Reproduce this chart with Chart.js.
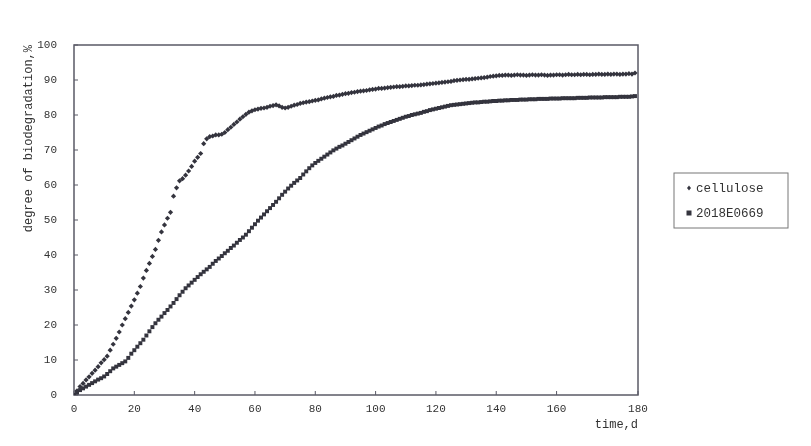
<!DOCTYPE html>
<html>
<head>
<meta charset="utf-8">
<script src="https://cdn.jsdelivr.net/npm/chart.js@4.4.1/dist/chart.umd.min.js"></script>
<style>
  html, body { margin: 0; padding: 0; background: #fff; }
  canvas { display: block; }
</style>
</head>
<body>
<canvas id="bioChart" width="811" height="446"></canvas>
<script>
// Series labels
const seriesNames = ['cellulose', '2018E0669'];

// Test days (x values)
const days = [
  0, 1, 2, 3, 4, 5, 6, 7, 8, 9, 10, 11, 12, 13, 14, 15, 16, 17, 18, 19,
  20, 21, 22, 23, 24, 25, 26, 27, 28, 29, 30, 31, 32, 33, 34, 35, 36, 37, 38, 39,
  40, 41, 42, 43, 44, 45, 46, 47, 48, 49, 50, 51, 52, 53, 54, 55, 56, 57, 58, 59,
  60, 61, 62, 63, 64, 65, 66, 67, 68, 69, 70, 71, 72, 73, 74, 75, 76, 77, 78, 79,
  80, 81, 82, 83, 84, 85, 86, 87, 88, 89, 90, 91, 92, 93, 94, 95, 96, 97, 98, 99,
  100, 101, 102, 103, 104, 105, 106, 107, 108, 109, 110, 111, 112, 113, 114, 115, 116, 117, 118, 119,
  120, 121, 122, 123, 124, 125, 126, 127, 128, 129, 130, 131, 132, 133, 134, 135, 136, 137, 138, 139,
  140, 141, 142, 143, 144, 145, 146, 147, 148, 149, 150, 151, 152, 153, 154, 155, 156, 157, 158, 159,
  160, 161, 162, 163, 164, 165, 166, 167, 168, 169, 170, 171, 172, 173, 174, 175, 176, 177, 178, 179,
  180, 181, 182, 183, 184, 185, 186
];

// Degree of biodegradation, %
const cellulose = [
  0, 1.2, 2.4, 3.3, 4.3, 5.2, 6.2, 7.1, 8.1, 9.2,
  10.1, 11.1, 12.8, 14.5, 16.2, 18.0, 20.0, 21.8, 23.6, 25.4,
  27.2, 29.1, 31.0, 33.4, 35.6, 37.6, 39.6, 41.6, 44.2, 46.6,
  48.6, 50.5, 52.2, 56.8, 59.2, 61.2, 61.8, 62.8, 64.0, 65.3,
  66.8, 67.9, 69.0, 71.8, 73.2, 73.8, 74.0, 74.3, 74.3, 74.5,
  75.0, 75.8, 76.5, 77.3, 78.0, 78.8, 79.5, 80.2, 80.8, 81.2,
  81.5, 81.7, 81.9, 82.0, 82.2, 82.5, 82.7, 82.9, 82.6, 82.2,
  82.0, 82.2, 82.5, 82.8, 83.0, 83.3, 83.5, 83.7, 83.8, 84.0,
  84.2, 84.3, 84.6, 84.8, 85.0, 85.2, 85.3, 85.6, 85.7, 85.9,
  86.1, 86.2, 86.4, 86.5, 86.7, 86.8, 86.9, 87.0, 87.2, 87.3,
  87.4, 87.6, 87.6, 87.7, 87.8, 87.9, 88.0, 88.1, 88.1, 88.2,
  88.3, 88.3, 88.4, 88.5, 88.5, 88.6, 88.7, 88.8, 88.9, 89.0,
  89.1, 89.2, 89.3, 89.4, 89.5, 89.6, 89.8, 89.9, 90.0, 90.1,
  90.2, 90.2, 90.3, 90.4, 90.5, 90.6, 90.7, 90.8, 91.0, 91.1,
  91.2, 91.3, 91.3, 91.4, 91.4, 91.3, 91.4, 91.5, 91.4, 91.4,
  91.3, 91.4, 91.5, 91.4, 91.4, 91.5, 91.4, 91.3, 91.4, 91.4,
  91.5, 91.5, 91.4, 91.5, 91.6, 91.5, 91.5, 91.6, 91.5, 91.6,
  91.6, 91.5, 91.6, 91.6, 91.7, 91.6, 91.6, 91.7, 91.6, 91.7,
  91.7, 91.6, 91.7, 91.7, 91.8, 91.7, 92.0
];

const sample2018E0669 = [
  0, 0.7, 1.4, 1.9, 2.4, 2.9, 3.4, 3.9, 4.4, 4.8,
  5.3, 6.0, 6.8, 7.6, 8.1, 8.6, 9.1, 9.6, 10.6, 11.8,
  12.8, 13.8, 14.8, 15.8, 17.0, 18.2, 19.4, 20.5, 21.5, 22.4,
  23.4, 24.3, 25.3, 26.3, 27.4, 28.5, 29.5, 30.5, 31.3, 32.1,
  32.9, 33.7, 34.5, 35.2, 35.9, 36.6, 37.5, 38.3, 39.0, 39.7,
  40.5, 41.2, 42.0, 42.7, 43.5, 44.3, 45.0, 45.8, 46.8, 47.8,
  48.8, 49.8, 50.7, 51.6, 52.5, 53.4, 54.3, 55.2, 56.2, 57.2,
  58.1, 59.0, 59.8, 60.6, 61.3, 62.0, 63.0, 63.9, 64.8, 65.6,
  66.3, 66.9, 67.5, 68.1, 68.7, 69.3, 69.9, 70.4, 70.9, 71.3,
  71.8, 72.3, 72.8, 73.3, 73.8, 74.3, 74.7, 75.1, 75.5, 75.9,
  76.3, 76.7, 77.0, 77.4, 77.7, 78.0, 78.3, 78.6, 78.9, 79.2,
  79.5, 79.7, 80.0, 80.2, 80.4, 80.6, 80.9, 81.1, 81.4, 81.6,
  81.8, 82.0, 82.2, 82.4, 82.6, 82.8, 82.9, 83.0, 83.1, 83.2,
  83.3, 83.4, 83.5, 83.6, 83.6, 83.7, 83.8, 83.8, 83.9, 84.0,
  84.0, 84.1, 84.1, 84.2, 84.2, 84.3, 84.3, 84.3, 84.4, 84.4,
  84.4, 84.5, 84.5, 84.5, 84.6, 84.6, 84.6, 84.6, 84.7, 84.7,
  84.7, 84.7, 84.8, 84.8, 84.8, 84.8, 84.8, 84.9, 84.9, 84.9,
  84.9, 85.0, 85.0, 85.0, 85.0, 85.0, 85.1, 85.1, 85.1, 85.1,
  85.1, 85.2, 85.2, 85.2, 85.2, 85.3, 85.4
];

// Axis ticks
const xTickValues = [0, 20, 40, 60, 80, 100, 120, 140, 160, 187];
const xTickLabels = ['0', '20', '40', '60', '80', '100', '120', '140', '160', '180'];
const yTickValues = [0, 10, 20, 30, 40, 50, 60, 70, 80, 90, 100];

const INK = '#34343e';
const FONT = "'Liberation Mono', 'DejaVu Sans Mono', monospace";

function toPoints(values) {
    return values.map((v, i) => ({ x: days[i], y: v }));
}

// Box round the plot, plus the small inward tick marks
const framePlugin = {
    id: 'frame',
    beforeDatasetsDraw(chart) {
        const { ctx, chartArea: a, scales } = chart;
        ctx.save();
        ctx.strokeStyle = '#5a5a66';
        ctx.lineWidth = 1.5;
        ctx.strokeRect(a.left, a.top, a.right - a.left, a.bottom - a.top);
        ctx.lineWidth = 1;
        ctx.beginPath();
        yTickValues.forEach(v => {
            const y = scales.y.getPixelForValue(v);
            ctx.moveTo(a.left, y);
            ctx.lineTo(a.left + 4, y);
        });
        xTickValues.forEach(v => {
            const x = scales.x.getPixelForValue(v);
            ctx.moveTo(x, a.bottom);
            ctx.lineTo(x, a.bottom - 4);
        });
        ctx.stroke();
        ctx.restore();
    }
};

// Boxed legend to the right of the plot
const boxLegendPlugin = {
    id: 'boxLegend',
    afterDraw(chart) {
        const { ctx, chartArea: a } = chart;
        const left = a.right + 36, top = a.top + 128, w = 114, h = 55;
        ctx.save();
        ctx.strokeStyle = '#777';
        ctx.lineWidth = 1;
        ctx.strokeRect(left, top, w, h);
        ctx.font = '12.5px ' + FONT;
        ctx.textBaseline = 'middle';
        chart.data.datasets.forEach((ds, i) => {
            const cy = top + 15 + i * 25;
            const mx = left + 15;
            ctx.fillStyle = INK;
            if (ds.pointStyle === 'rect') {
                ctx.fillRect(mx - 2.5, cy - 2.5, 5, 5);
            } else {
                ctx.beginPath();
                ctx.moveTo(mx, cy - 2.5);
                ctx.lineTo(mx + 2, cy);
                ctx.lineTo(mx, cy + 2.5);
                ctx.lineTo(mx - 2, cy);
                ctx.closePath();
                ctx.fill();
            }
            ctx.fillStyle = '#333';
            ctx.fillText(ds.label, left + 22, cy + 1);
        });
        ctx.restore();
    }
};

new Chart(document.getElementById('bioChart').getContext('2d'), {
    type: 'scatter',
    data: {
        datasets: [{
            label: seriesNames[0],
            data: toPoints(cellulose),
            pointStyle: 'rectRot',
            pointRadius: 2.6,
            backgroundColor: INK,
            borderColor: INK,
            borderWidth: 0,
            showLine: false
        }, {
            label: seriesNames[1],
            data: toPoints(sample2018E0669),
            pointStyle: 'rect',
            pointRadius: 2.8,
            backgroundColor: INK,
            borderColor: INK,
            borderWidth: 0,
            showLine: false
        }]
    },
    options: {
        responsive: false,
        animation: false,
        layout: { padding: { left: 0, top: 45, right: 173, bottom: 0 } },
        plugins: {
            legend: { display: false },
            tooltip: { enabled: false }
        },
        scales: {
            x: {
                type: 'linear',
                min: 0,
                max: 187,
                grid: { display: false, drawTicks: false },
                border: { display: false },
                afterBuildTicks: scale => {
                    scale.ticks = xTickValues.map(v => ({ value: v }));
                },
                afterFit: scale => { scale.height = 51; },
                ticks: {
                    autoSkip: false,
                    maxRotation: 0,
                    padding: 7,
                    color: '#333',
                    font: { family: FONT, size: 11 },
                    callback: value => xTickLabels[xTickValues.indexOf(value)]
                },
                title: {
                    display: true,
                    text: 'time,d',
                    align: 'end',
                    color: '#333',
                    font: { family: FONT, size: 12 },
                    padding: { top: 0, bottom: 14 }
                }
            },
            y: {
                min: 0,
                max: 100,
                grid: { display: false, drawTicks: false },
                border: { display: false },
                afterBuildTicks: scale => {
                    scale.ticks = yTickValues.map(v => ({ value: v }));
                },
                afterFit: scale => { scale.width = 74; },
                ticks: {
                    padding: 17,
                    color: '#333',
                    font: { family: FONT, size: 11 }
                },
                title: {
                    display: true,
                    text: 'degree of biodegradation,%',
                    align: 'end',
                    color: '#333',
                    font: { family: FONT, size: 12 },
                    padding: { top: 22, bottom: 0 }
                }
            }
        }
    },
    plugins: [framePlugin, boxLegendPlugin]
});
</script>
</body>
</html>
